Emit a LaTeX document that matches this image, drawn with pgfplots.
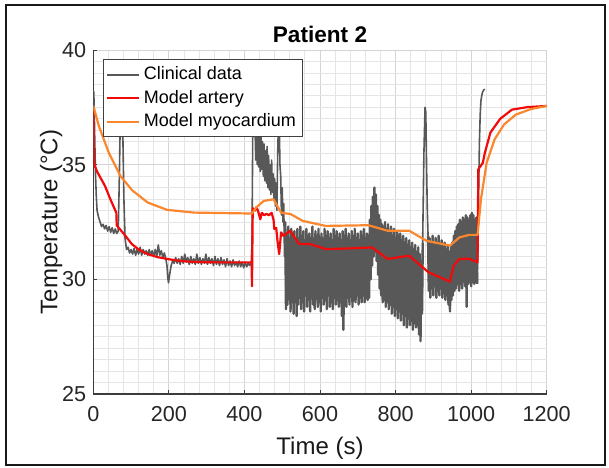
\documentclass[border=0pt]{standalone}
\usepackage{fontspec}
\setmainfont{Liberation Sans}
\usepackage{pgfplots}
\pgfplotsset{compat=1.18}
\usetikzlibrary{calc}
\definecolor{clin}{RGB}{88,88,88}
\definecolor{artery}{RGB}{240,10,10}
\definecolor{myo}{RGB}{250,135,45}
\definecolor{axc}{RGB}{60,60,60}

\begin{document}
\begin{tikzpicture}
\begin{axis}[
  name=ax,
  scale only axis,
  width=226.7pt, height=172pt,
  xmin=0, xmax=1200, ymin=25, ymax=40,
  xtick={0,200,...,1200}, ytick={25,30,35,40},
  minor x tick num=4, minor y tick num=9,
  grid=both,
  major grid style={draw=black!17, line width=0.4pt},
  minor grid style={draw=black!10, line width=0.4pt},
  axis x line*=bottom, axis y line*=left,
  axis line style={-, draw=axc, line width=0.6pt},
  tick align=inside, major tick length=2pt, minor tick length=0pt,
  tick style={draw=axc, line width=0.5pt},
  /pgf/number format/assume math mode=true,
  /pgf/number format/set thousands separator={},
  tick label style={font=\fontsize{10.8}{12}\selectfont, text=black!85},
  xticklabel style={yshift=-2.5pt},
  label style={font=\fontsize{12}{14}\selectfont, text=black!90},
  xlabel={Time (s)}, ylabel={Temperature (°C)},
  xlabel shift=1pt, ylabel shift=-7pt,
  title={\textbf{Patient 2}},
  title style={font=\fontsize{11.3}{13}\selectfont, yshift=-6pt},
  legend cell align=left,
  legend style={at={(0.022,0.973)}, anchor=north west,
    font=\fontsize{9}{10.5}\selectfont, draw=black!75, line width=0.5pt,
    inner xsep=1pt, inner ysep=1.5pt, row sep=-0.3pt},
  legend image code/.code={\draw[#1] (0pt,0pt) -- (16pt,0pt);},
]
% clinical data, noisy middle part (drawn a bit heavier so the band fills)
\addplot[clin, line width=1.2pt, line join=round, forget plot] coordinates {
(508,32.5)
(510,28.7)(512,32.0)(514,28.9)(516,32.3)(518,29.2)(520,31.8)(522,28.6)(524,32.2)(526,29.0)(528,31.9)
(530,28.5)(532,32.1)(534,29.1)(536,31.7)(538,28.4)(540,32.2)(542,28.9)(544,31.8)(546,29.2)(548,32.3)
(550,28.7)(552,31.9)(554,29.0)(556,32.1)(558,28.6)(560,31.7)(562,29.3)(564,32.2)(566,28.8)(568,31.9)
(570,29.1)(572,32.0)(574,28.6)(576,31.8)(578,29.2)(580,32.3)(582,28.9)(584,31.7)(586,28.7)(588,32.1)
(590,29.3)(592,31.9)(594,28.8)(596,32.2)(598,29.0)(600,31.8)(602,28.6)(604,32.0)(606,29.2)(608,31.7)
(610,28.9)(612,32.2)(614,29.1)(616,31.9)(618,28.7)(620,32.1)(622,29.3)(624,31.8)(626,28.8)(628,32.0)
(630,29.0)(632,31.7)(634,28.7)(636,32.2)(638,29.2)(640,31.9)(642,28.9)(644,32.1)(646,29.1)(648,31.8)
(650,28.8)(652,32.0)(654,29.0)(656,31.7)(658,28.4)(660,32.1)(662,27.8)(664,31.9)(666,29.1)(668,32.2)
(670,28.8)(672,31.8)(674,29.2)(676,32.0)(678,28.9)(680,31.7)(682,29.3)(684,32.1)(686,28.8)(688,31.9)
(690,29.1)(692,32.2)(694,29.0)(696,31.8)(698,29.3)(700,32.0)(702,28.9)(704,31.7)(706,29.2)(708,32.1)
(710,29.0)(712,31.9)(714,29.3)(716,32.2)(718,29.0)(720,31.8)(722,29.2)(724,32.0)(726,29.1)(728,31.9)
(730,29.2)(732,32.6)(734,30.0)(736,33.2)(738,30.6)(740,33.6)(742,31.0)(744,34.0)(746,31.2)(748,33.7)
(750,30.8)(752,33.2)(754,30.2)(756,32.8)(758,29.6)(760,32.6)(762,29.3)(764,32.4)(766,29.0)
(768,32.3)(770,29.1)(772,32.5)(774,28.8)(776,32.2)(778,29.0)(780,32.4)(782,28.7)(784,32.0)(786,28.9)
(788,32.3)(790,28.5)(792,31.9)(794,28.8)(796,32.2)(798,28.4)(800,31.8)(802,28.7)(804,32.1)(806,28.3)
(808,31.9)(810,28.6)(812,32.0)(814,28.2)(816,31.7)(818,28.5)(820,31.9)(822,28.0)(824,31.6)(826,28.4)
(828,31.8)(830,27.9)(832,31.5)(834,28.3)(836,31.7)(838,28.0)(840,31.4)(842,28.2)(844,31.6)(846,27.8)
(848,31.3)(850,28.1)(852,31.5)(854,27.9)(856,31.2)(858,28.0)(860,31.4)(862,27.6)(864,31.1)(866,27.3)
(868,30.8)(870,28.5)(872,31.6)
};
\addplot[clin, line width=1.2pt, line join=round, forget plot] coordinates {
(886,31.9)
(888,29.5)(890,31.8)(892,29.2)(894,31.6)(896,29.6)(898,31.9)(900,29.3)(902,31.5)(904,29.7)(906,31.8)
(908,29.2)(910,31.6)(912,29.5)(914,31.9)(916,29.3)(918,31.5)(920,29.6)(922,31.7)(924,29.2)(926,31.4)
(928,29.4)(930,31.6)(932,29.1)(934,31.3)(936,29.3)(938,31.5)(940,28.9)(942,31.2)(944,28.6)(946,31.4)
(948,29.1)(950,31.6)(952,29.3)(954,31.9)(956,29.5)(958,32.1)(960,29.6)(962,32.3)(964,29.8)(966,32.4)
(968,29.5)(970,32.6)(972,29.8)(974,32.5)(976,29.6)(978,32.7)(980,29.9)(982,32.6)(984,29.7)(986,32.8)
(988,28.8)(990,32.7)(992,29.8)(994,32.6)(996,29.9)(998,32.8)(1000,29.7)(1002,32.9)(1004,29.9)(1006,32.8)
(1008,29.8)(1010,32.6)(1012,29.9)(1014,32.7)(1016,29.8)
};
% clinical data, the rest
\addplot[clin, line width=0.8pt, line join=round, unbounded coords=jump] coordinates {
(0,36.0)(1,38.2)(2,37.8)(4,36.0)(6,34.5)(8,33.6)(10,33.0)(14,32.7)(18,32.5)(22,32.3)(26,32.4)(30,32.2)
(34,32.35)(38,32.1)(42,32.3)(46,32.05)(50,32.25)(54,32.0)(58,32.2)(62,32.0)(66,32.1)(69,34.5)(72,37.6)(75,37.9)
(78,36.5)(81,33.5)(84,31.8)(88,31.3)(92,31.4)(96,31.15)(100,31.3)
(104,31.1)(108,31.35)(112,31.05)(116,31.3)(120,31.1)(124,31.4)(128,31.05)(132,31.3)(136,31.1)(140,31.25)
(144,31.05)(148,31.3)(152,31.05)(156,31.25)(160,31.0)(164,31.3)(168,31.0)(172,31.5)(176,31.05)(180,31.25)
(184,30.95)(188,31.15)(192,30.9)(195,30.6)(197,30.1)(199,29.85)(202,30.2)(206,30.6)(210,30.8)(214,30.7)
(218,30.95)(222,30.7)(226,30.9)(230,30.65)(234,31.0)(238,30.7)(242,31.1)(246,30.75)(250,30.95)(254,30.65)
(258,31.0)(262,30.7)(266,30.9)(270,30.65)(274,31.1)(278,30.7)(282,30.95)(286,30.65)(290,30.9)(294,30.7)
(298,31.1)(302,30.65)(306,30.95)(310,30.7)(314,30.9)(318,30.6)(322,31.0)(326,30.65)(330,30.9)(334,30.6)
(338,30.95)(342,30.65)(346,30.85)(350,30.55)(354,30.9)(358,30.6)(362,30.8)(366,30.55)(370,30.85)(374,30.6)
(378,30.75)(382,30.55)(386,30.8)(390,30.55)(394,30.75)(398,30.5)(402,30.75)(406,30.55)(410,30.7)(414,30.6)
(418,30.75)
(420,31.5)(422,36.5)(424,38.0)(426,37.5)(428,36.6)(430,35.2)(432,36.8)(434,35.0)(436,36.6)(438,34.9)
(440,36.4)(442,34.7)(444,36.3)(446,34.8)(448,36.0)(450,34.5)(452,35.9)(454,34.3)(456,35.6)(458,34.2)
(460,35.8)(462,34.0)(464,35.4)(466,33.9)(468,35.0)(470,33.7)(472,35.2)(474,33.8)(476,34.6)(478,33.5)
(480,34.4)(482,33.2)(484,34.2)(486,33.0)(488,35.5)(490,36.8)(492,37.0)(494,35.0)(496,34.5)(498,32.8)
(500,34.0)(502,32.5)(504,33.3)(506,31.0)(508,32.5)(510,28.7)
(511,nan)
(870,28.5)(872,32.0)(875,35.5)(878,37.5)(880,37.3)(882,35.0)(884,33.0)(886,31.9)(888,29.5)
(889,nan)
(1016,29.8)(1018,31.5)(1020,34.0)(1022,36.0)(1024,37.2)(1026,37.8)(1028,38.0)(1030,38.15)(1033,38.25)(1036,38.3)
};
\addlegendentry{Clinical data}
% model artery
\addplot[artery, line width=1.1pt, line join=round] coordinates {
(0,37.4)(1,35.6)(3,35.0)(10,34.7)(20,34.4)(31,34.07)(45,33.5)(61,32.9)(62,32.35)(80,32.0)(102,31.54)
(120,31.3)(144,31.1)(170,30.97)(195,30.89)(230,30.8)(267,30.76)(320,30.74)(419,30.74)(420,29.7)
(422,33.1)(428,33.0)(432,33.15)(436,32.98)(442,32.62)(446,32.9)(452,32.8)(458,32.85)(465,32.8)
(472,32.9)(477,32.6)(479,32.2)(484,32.25)(488,31.6)(492,31.1)(497,32.05)(503,31.9)(512,32.0)(521,32.12)
(544,31.54)(574,31.54)(615,31.32)(680,31.35)(738,31.39)(779,30.89)(836,31.03)(887,30.31)(944,29.9)
(954,30.6)(969,30.89)(995,30.9)(1017,30.74)(1019,34.8)(1031,35.08)(1036,35.5)(1051,36.4)(1077,37.0)
(1108,37.4)(1149,37.51)(1200,37.56)
};
\addlegendentry{Model artery}
% model myocardium
\addplot[myo, line width=1.1pt, line join=round] coordinates {
(0,37.57)(15,36.67)(41,35.52)(72,34.5)(103,33.88)(144,33.35)(195,33.03)(267,32.91)(420,32.87)
(431,33.13)(451,33.42)(477,33.49)(497,32.91)(523,32.84)(554,32.55)(615,32.33)(728,32.36)(779,32.12)
(836,32.12)(882,31.68)(944,31.47)(969,31.83)(995,31.94)(1017,31.94)(1026,33.49)(1041,35.08)
(1062,36.1)(1087,36.75)(1118,37.18)(1159,37.43)(1200,37.56)
};
\addlegendentry{Model myocardium}
\end{axis}
\draw[line width=1pt, black!90] ($(ax.south west)+(-43.7pt,-35.5pt)$) rectangle ($(ax.north east)+(29.2pt,22.5pt)$);
\path ($(ax.south west)+(-46.65pt,-36.5pt)$) rectangle ($(ax.north east)+(31.15pt,25pt)$);
\end{tikzpicture}
\end{document}
